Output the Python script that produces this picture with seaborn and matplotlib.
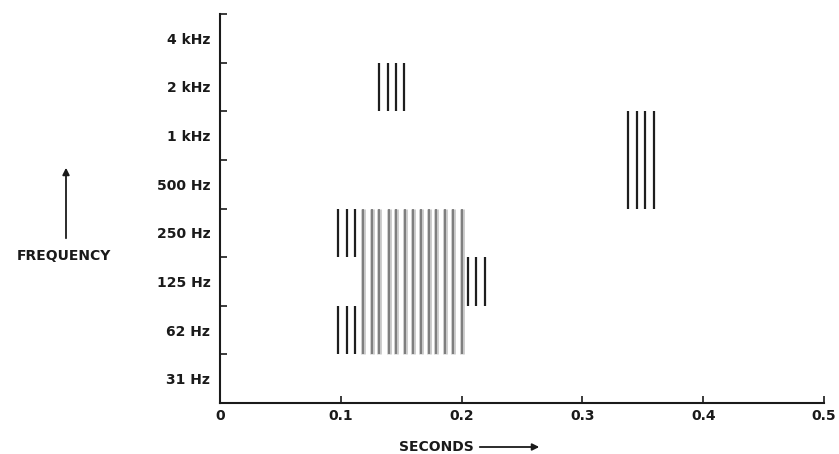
import matplotlib
matplotlib.use("Agg")
import matplotlib.pyplot as plt
import seaborn as sns
import numpy as np

# ---- data ----
band_labels = ["31 Hz", "62 Hz", "125 Hz", "250 Hz", "500 Hz", "1 kHz", "2 kHz", "4 kHz"]
x_ticks = [0, 0.1, 0.2, 0.3, 0.4, 0.5]
x_tick_labels = ["0", "0.1", "0.2", "0.3", "0.4", "0.5"]

burst_2k_times = [0.132, 0.139, 0.146, 0.152]
burst_2k_span = (6, 7)
burst_1k_times = [0.338, 0.345, 0.352, 0.359]
burst_1k_span = (4, 6)
onset_times = [0.098, 0.105, 0.112]
onset_spans = [(3, 4), (1, 2)]
gray_times = [0.118, 0.126, 0.132, 0.140, 0.146, 0.153, 0.160, 0.166,
              0.173, 0.179, 0.186, 0.193, 0.200]
gray_span = (1, 4)
tail_times = [0.205, 0.212, 0.219]
tail_span = (2, 3)

# ---- style ----
sns.set_theme(style="ticks")
plt.rcParams["font.family"] = ["DejaVu Sans"]

fig = plt.figure(figsize=(8.39, 4.54), dpi=100)
ax = fig.add_axes([220/839, 1-403/454, (824-220)/839, (403-14)/454])

dark = "#1e1e1e"
lw_dark = 1.6
fs = 10

# gray smeared lines
ax.vlines(gray_times, gray_span[0], gray_span[1], color="#c8c8c8", lw=3.4)
ax.vlines(gray_times, gray_span[0], gray_span[1], color="#6a6a6a", lw=1.1)

ax.vlines(burst_2k_times, *burst_2k_span, color=dark, lw=lw_dark)
ax.vlines(burst_1k_times, *burst_1k_span, color=dark, lw=lw_dark)
for lo, hi in onset_spans:
    ax.vlines(onset_times, lo, hi, color=dark, lw=lw_dark)
ax.vlines(tail_times, *tail_span, color=dark, lw=lw_dark)

ax.set_xlim(0, 0.5)
ax.set_ylim(0, 8)
sns.despine(ax=ax)
for s in ["left", "bottom"]:
    ax.spines[s].set_linewidth(1.5)
    ax.spines[s].set_color("#1a1a1a")

ax.set_xticks(x_ticks)
ax.set_xticklabels(x_tick_labels, fontsize=fs, fontweight="bold", color="#1a1a1a")
ax.set_yticks(range(0, 9))
ax.set_yticklabels([])
ax.set_yticks(np.arange(8) + 0.5, minor=True)
ax.set_yticklabels(band_labels, minor=True, fontsize=fs, fontweight="bold", color="#1a1a1a")
ax.tick_params(axis="both", which="major", direction="in", length=5, width=1.2, color="#1a1a1a")
ax.tick_params(axis="x", which="major", pad=4)
ax.tick_params(axis="y", which="minor", length=0, pad=7)
ax.grid(False)

# axis titles with arrows
fig.text(436/839, 1-447/454, "SECONDS", ha="center", va="center",
         fontsize=fs, fontweight="bold", color="#1a1a1a")
fig.add_artist(matplotlib.patches.FancyArrowPatch(
    (477/839, 1-447/454), (542/839, 1-447/454), transform=fig.transFigure,
    arrowstyle="-|>", mutation_scale=10, lw=1.3, color="#1a1a1a"))
fig.text(64/839, 1-256/454, "FREQUENCY", ha="center", va="center",
         fontsize=fs, fontweight="bold", color="#1a1a1a")
fig.add_artist(matplotlib.patches.FancyArrowPatch(
    (66/839, 1-241/454), (66/839, 1-165/454), transform=fig.transFigure,
    arrowstyle="-|>", mutation_scale=10, lw=1.3, color="#1a1a1a"))

fig.savefig("out.png", dpi=100, facecolor="white")
